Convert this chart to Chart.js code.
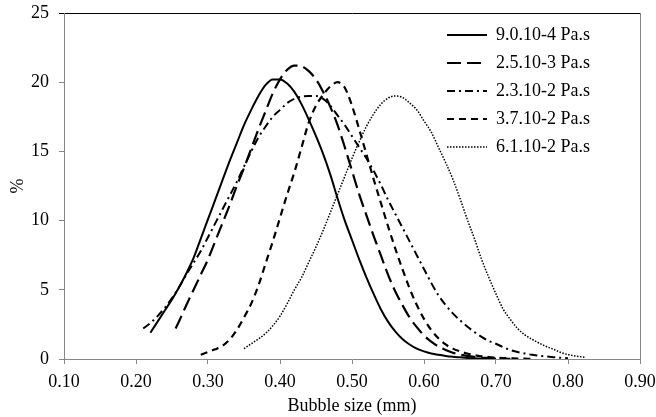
<!DOCTYPE html>
<html>
<head>
<meta charset="utf-8">
<script src="https://cdn.jsdelivr.net/npm/chart.js@4"></script>
<style>
  html, body { margin: 0; padding: 0; background: #fff; }
  #wrap { width: 656px; height: 417px; }
</style>
</head>
<body>
<div id="wrap"><canvas id="bubbleChart" width="656" height="417"></canvas></div>
<script>
// Bubble size (mm) per series
const sizes1 = [0.22,0.23,0.24,0.25,0.26,0.27,0.28,0.29,0.30,0.31,0.32,0.33,0.34,0.35,0.36,0.37,0.38,0.39,0.40,0.41,0.42,0.43,0.44,0.45,0.46,0.47,0.48,0.49,0.50,0.51,0.52,0.53,0.54,0.55,0.56,0.57,0.58,0.59,0.60,0.61,0.62,0.63,0.64,0.65,0.66,0.67,0.68,0.69,0.70];
const values1 = [1.9,2.7,3.5,4.3,5.2,6.2,7.3,8.7,10.1,11.5,12.9,14.3,15.6,16.9,18.0,19.0,19.8,20.2,20.2,19.9,19.3,18.4,17.3,16.1,14.8,13.3,11.6,10.0,8.6,7.2,5.9,4.7,3.6,2.7,2.0,1.45,1.05,0.75,0.55,0.4,0.3,0.22,0.16,0.12,0.08,0.05,0.03,0.02,0.01];

const sizes2 = [0.255,0.26,0.27,0.28,0.29,0.30,0.31,0.32,0.33,0.34,0.35,0.36,0.37,0.38,0.39,0.40,0.41,0.42,0.43,0.44,0.45,0.46,0.47,0.48,0.49,0.50,0.51,0.52,0.53,0.54,0.55,0.56,0.57,0.58,0.59,0.60,0.61,0.62,0.63,0.64,0.65,0.66,0.67,0.68,0.69,0.70,0.71,0.72];
const values2 = [2.2,2.75,3.9,5.0,6.1,7.2,8.5,9.8,11.1,12.5,13.8,15.2,16.6,17.9,19.2,20.2,20.9,21.2,21.15,20.8,20.2,19.3,18.2,16.9,15.3,13.6,11.9,10.4,8.9,7.5,6.1,4.9,3.9,3.0,2.3,1.7,1.25,0.9,0.65,0.45,0.32,0.22,0.15,0.1,0.07,0.04,0.02,0.01];

const sizes3 = [0.21,0.22,0.23,0.24,0.25,0.26,0.27,0.28,0.29,0.30,0.31,0.32,0.33,0.34,0.35,0.36,0.37,0.38,0.39,0.40,0.41,0.42,0.43,0.44,0.45,0.46,0.47,0.48,0.49,0.50,0.51,0.52,0.53,0.54,0.55,0.56,0.57,0.58,0.59,0.60,0.61,0.62,0.63,0.64,0.65,0.66,0.67,0.68,0.69,0.70,0.71,0.72,0.73,0.74,0.75,0.76,0.77,0.78,0.79,0.80];
const values3 = [2.2,2.6,3.1,3.7,4.4,5.2,6.1,6.95,7.8,8.8,9.8,10.8,11.8,12.8,13.9,15.0,16.0,16.8,17.5,18.0,18.5,18.8,18.95,19.0,19.0,18.8,18.3,17.6,16.9,16.1,15.3,14.5,13.6,12.6,11.5,10.5,9.5,8.5,7.5,6.5,5.5,4.6,3.9,3.3,2.8,2.35,1.95,1.6,1.3,1.1,0.85,0.65,0.5,0.4,0.3,0.24,0.18,0.13,0.09,0.05];

const sizes4 = [0.29,0.30,0.31,0.32,0.33,0.34,0.35,0.36,0.37,0.38,0.39,0.40,0.41,0.42,0.43,0.44,0.45,0.46,0.47,0.48,0.49,0.50,0.51,0.52,0.53,0.54,0.55,0.56,0.57,0.58,0.59,0.60,0.61,0.62,0.63,0.64,0.65,0.66,0.67,0.68,0.69,0.70,0.71,0.72,0.73,0.74,0.75];
const values4 = [0.3,0.5,0.7,0.95,1.4,2.1,3.0,4.0,5.3,6.9,8.5,10.2,11.9,13.5,15.3,17.1,18.3,19.1,19.7,20.0,19.6,18.3,16.6,14.8,13.0,11.3,9.6,8.0,6.5,5.1,3.9,2.9,2.1,1.5,1.05,0.75,0.55,0.4,0.28,0.2,0.14,0.1,0.07,0.05,0.03,0.02,0.01];

const sizes5 = [0.35,0.36,0.37,0.38,0.39,0.40,0.41,0.42,0.43,0.44,0.45,0.46,0.47,0.48,0.49,0.50,0.51,0.52,0.53,0.54,0.55,0.56,0.57,0.58,0.59,0.60,0.61,0.62,0.63,0.64,0.65,0.66,0.67,0.68,0.69,0.70,0.71,0.72,0.73,0.74,0.75,0.76,0.77,0.78,0.79,0.80,0.81,0.82,0.825];
const values5 = [0.75,1.1,1.45,1.85,2.4,3.1,4.0,5.0,5.9,7.0,8.1,9.3,10.6,11.9,13.2,14.5,15.7,16.8,17.7,18.4,18.85,19.0,18.9,18.5,18.0,17.2,16.4,15.3,14.2,13.0,11.6,10.1,8.7,7.2,5.9,4.7,3.6,2.85,2.2,1.75,1.42,1.15,0.9,0.7,0.47,0.32,0.22,0.15,0.12];

const seriesLabels = ['9.0.10-4 Pa.s', '2.5.10-3 Pa.s', '2.3.10-2 Pa.s', '3.7.10-2 Pa.s', '6.1.10-2 Pa.s'];
const xTicks = [0.1, 0.2, 0.3, 0.4, 0.5, 0.6, 0.7, 0.8, 0.9];
const yTicks = [0, 5, 10, 15, 20, 25];

const FONT = 'Liberation Serif';
const AXIS_GREY = '#868686';

function pairs(xs, ys) {
    return xs.map((x, i) => ({ x: x, y: ys[i] }));
}

function makeSet(label, xs, ys, dash, width) {
    return {
        label: label,
        data: pairs(xs, ys),
        borderColor: '#000',
        backgroundColor: '#000',
        borderWidth: width,
        borderDash: dash,
        pointRadius: 0,
        pointStyle: 'line',
        fill: false,
        cubicInterpolationMode: 'monotone'
    };
}

// Place the legend in the upper right of the plot area
const legendPlacer = {
    id: 'legendPlacer',
    afterLayout(chart) {
        const lg = chart.legend;
        if (!lg) return;
        const w = lg.width;
        lg.left = 437;
        lg.right = lg.left + w;
        lg.top = 16;
        lg.bottom = chart.chartArea.bottom;
        lg.height = lg.bottom - lg.top;
    }
};

document.addEventListener('DOMContentLoaded', function() {
    const ctx = document.getElementById('bubbleChart').getContext('2d');
    new Chart(ctx, {
        type: 'line',
        data: {
            datasets: [
                makeSet(seriesLabels[0], sizes1, values1, [], 2),
                makeSet(seriesLabels[1], sizes2, values2, [14, 6], 2.2),
                makeSet(seriesLabels[2], sizes3, values3, [8, 4, 2, 4], 2),
                makeSet(seriesLabels[3], sizes4, values4, [7, 5], 2.2),
                makeSet(seriesLabels[4], sizes5, values5, [1.5, 1.5], 1.5)
            ]
        },
        options: {
            responsive: false,
            animation: false,
            layout: { padding: { top: 13, right: 0, left: 0, bottom: 0 } },
            plugins: {
                legend: {
                    position: 'chartArea',
                    align: 'start',
                    labels: {
                        usePointStyle: true,
                        pointStyle: 'line',
                        pointStyleWidth: 40,
                        boxWidth: 40,
                        padding: 10,
                        color: '#000',
                        font: { family: FONT, size: 18 },
                        generateLabels: chart => {
                            const items = Chart.defaults.plugins.legend.labels.generateLabels(chart);
                            items.forEach((it, i) => {
                                const ds = chart.data.datasets[i];
                                it.lineDash = ds.borderDash;
                                it.lineWidth = ds.borderWidth;
                                it.strokeStyle = '#000';
                                it.pointStyle = 'line';
                            });
                            return items;
                        }
                    }
                },
                tooltip: { enabled: false }
            },
            scales: {
                x: {
                    type: 'linear',
                    min: 0.1,
                    max: 0.9,
                    afterFit: s => { s.height = 58; s.paddingRight = 16; s.paddingLeft = 0; },
                    afterBuildTicks: s => { s.ticks = xTicks.map(v => ({ value: v })); },
                    ticks: {
                        color: '#000',
                        padding: 7,
                        maxRotation: 0,
                        font: { family: FONT, size: 18 },
                        callback: v => Number(v).toFixed(2)
                    },
                    grid: {
                        color: c => (c.tick && Math.abs(c.tick.value - 0.9) < 1e-6) ? AXIS_GREY : 'rgba(0,0,0,0)',
                        tickColor: AXIS_GREY,
                        tickLength: 5,
                        lineWidth: 1
                    },
                    border: { color: AXIS_GREY, width: 1 },
                    title: {
                        display: true,
                        text: 'Bubble size (mm)',
                        color: '#000',
                        font: { family: FONT, size: 18 },
                        padding: { top: 0, bottom: 0 }
                    }
                },
                y: {
                    min: 0,
                    max: 25,
                    afterFit: s => { s.width = 64; s.paddingTop = 0; s.paddingBottom = 0; },
                    afterBuildTicks: s => { s.ticks = yTicks.map(v => ({ value: v })); },
                    ticks: {
                        color: '#000',
                        padding: 10,
                        font: { family: FONT, size: 18 }
                    },
                    grid: {
                        color: c => (c.tick && c.tick.value === 25) ? '#000' : 'rgba(0,0,0,0)',
                        tickColor: c => (c.tick && c.tick.value === 25) ? '#000' : AXIS_GREY,
                        tickLength: 5,
                        lineWidth: 1
                    },
                    border: { color: AXIS_GREY, width: 1 },
                    title: {
                        display: true,
                        text: '%',
                        color: '#000',
                        font: { family: FONT, size: 18 },
                        padding: { top: 7, bottom: 0 }
                    }
                }
            }
        },
        plugins: [legendPlacer]
    });
});
</script>
</body>
</html>
